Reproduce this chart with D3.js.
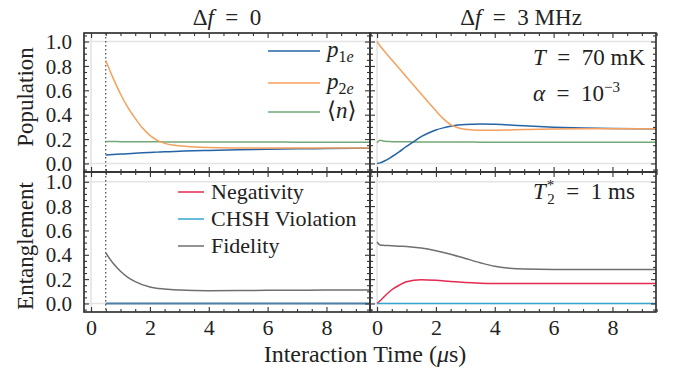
<!DOCTYPE html>
<html>
<head>
<meta charset="utf-8">
<script src="https://cdn.jsdelivr.net/npm/d3@7"></script>
<style>
  html, body { margin: 0; padding: 0; background: #fff; }
  svg { display: block; }
  svg text { font-family: 'Liberation Serif', 'DejaVu Serif', 'Liberation Sans', sans-serif; fill: #222; }
</style>
</head>
<body>
<svg id="chart" width="675" height="375"></svg>
<script>
// ---- data -------------------------------------------------------------
// Δf = 0, populations (start at t = 0.5 µs)
const tPopLeft  = [0.5, 0.75, 1, 1.25, 1.5, 1.75, 2, 2.25, 2.5, 3, 3.5, 4, 5, 6, 7, 8, 9, 9.5];
const p1eLeft   = [0.070, 0.073, 0.077, 0.080, 0.084, 0.087, 0.090, 0.093, 0.096, 0.100, 0.104, 0.107, 0.113, 0.117, 0.120, 0.122, 0.124, 0.125];
const p2eLeft   = [0.845, 0.700, 0.570, 0.460, 0.370, 0.290, 0.230, 0.190, 0.165, 0.145, 0.135, 0.130, 0.127, 0.126, 0.126, 0.126, 0.126, 0.126];
const nLeft     = [0.180, 0.180, 0.179, 0.179, 0.179, 0.178, 0.178, 0.178, 0.177, 0.177, 0.177, 0.176, 0.176, 0.176, 0.175, 0.175, 0.175, 0.175];

// Δf = 3 MHz, populations
const tPopRight = [0, 0.1, 0.25, 0.5, 0.75, 1, 1.25, 1.5, 1.75, 2, 2.25, 2.5, 2.75, 3, 3.5, 4, 4.5, 5, 6, 7, 8, 9, 9.5];
const p1eRight  = [0.000, 0.005, 0.020, 0.055, 0.095, 0.140, 0.180, 0.220, 0.250, 0.275, 0.292, 0.305, 0.315, 0.320, 0.323, 0.321, 0.316, 0.309, 0.298, 0.290, 0.286, 0.285, 0.285];
const p2eRight  = [1.000, 0.965, 0.920, 0.850, 0.780, 0.710, 0.640, 0.570, 0.500, 0.432, 0.368, 0.318, 0.293, 0.280, 0.272, 0.272, 0.275, 0.278, 0.283, 0.285, 0.285, 0.285, 0.285];
const nRight    = [0.170, 0.190, 0.182, 0.179, 0.178, 0.178, 0.177, 0.177, 0.177, 0.176, 0.176, 0.176, 0.176, 0.176, 0.175, 0.175, 0.175, 0.175, 0.175, 0.175, 0.175, 0.175, 0.175];

// Δf = 0, entanglement measures
const tEntLeft  = [0.5, 0.75, 1, 1.25, 1.5, 2, 2.5, 3, 3.5, 4, 5, 6, 7, 8, 9, 9.5];
const negLeft   = [0, 0, 0, 0, 0, 0, 0, 0, 0, 0, 0, 0, 0, 0, 0, 0];
const chshLeft  = [0, 0, 0, 0, 0, 0, 0, 0, 0, 0, 0, 0, 0, 0, 0, 0];
const fidLeft   = [0.415, 0.330, 0.265, 0.215, 0.180, 0.135, 0.118, 0.110, 0.106, 0.105, 0.106, 0.108, 0.109, 0.110, 0.110, 0.110];

// Δf = 3 MHz, entanglement measures
const tEntRight = [0, 0.1, 0.25, 0.5, 0.75, 1, 1.5, 2, 2.5, 3, 3.5, 4, 4.5, 5, 6, 7, 8, 9, 9.5];
const negRight  = [0.000, 0.022, 0.058, 0.113, 0.150, 0.178, 0.195, 0.190, 0.180, 0.172, 0.167, 0.165, 0.165, 0.165, 0.165, 0.165, 0.165, 0.165, 0.165];
const chshRight = [0, 0, 0, 0, 0, 0, 0, 0, 0, 0, 0, 0, 0, 0, 0, 0, 0, 0, 0];
const fidRight  = [0.505, 0.480, 0.477, 0.475, 0.471, 0.468, 0.455, 0.433, 0.405, 0.370, 0.335, 0.305, 0.290, 0.283, 0.280, 0.280, 0.280, 0.280, 0.280];

const xMajorTicks = [0, 2, 4, 6, 8];
const yMajorTicks = [0, 0.2, 0.4, 0.6, 0.8, 1.0];
const startMarker = 0.5;   // dotted line in the Δf = 0 panels

// ---- styles -----------------------------------------------------------
const C = {
  p1e: "#2563a6", p2e: "#f5a05c", n: "#72a877",
  neg: "#e6294f", chsh: "#35a6cf", chshDim: "#4a80a8", fid: "#6f6f6f",
  spine: "#333333", ref: "#e4e4e4"
};
const SP = "\u2002";  // wide space around "=" in the formulas

const svg = d3.select("#chart");

const colX = [[84, 370], [370, 656]];
const rowY = [[33, 172], [172, 312]];
const xDomain = [-0.24, 9.48];
const yDomains = [[-0.07, 1.07], [-0.07, 1.08]];

const line = (x, y) => d3.line().x(d => x(d[0])).y(d => y(d[1])).curve(d3.curveMonotoneX);
const zip = (t, v) => t.map((ti, i) => [ti, v[i]]);

const panels = [
  { row: 0, col: 0, series: [
      { t: tPopLeft, v: nLeft, c: C.n },
      { t: tPopLeft, v: p1eLeft, c: C.p1e },
      { t: tPopLeft, v: p2eLeft, c: C.p2e } ], marker: true },
  { row: 0, col: 1, series: [
      { t: tPopRight, v: nRight, c: C.n },
      { t: tPopRight, v: p1eRight, c: C.p1e },
      { t: tPopRight, v: p2eRight, c: C.p2e } ], marker: false },
  { row: 1, col: 0, series: [
      { t: tEntLeft, v: fidLeft, c: C.fid },
      { t: tEntLeft, v: negLeft, c: C.neg, w: 1 },
      { t: tEntLeft, v: chshLeft, c: C.chshDim, w: 2 } ], marker: true },
  { row: 1, col: 1, series: [
      { t: tEntRight, v: fidRight, c: C.fid },
      { t: tEntRight, v: negRight, c: C.neg },
      { t: tEntRight, v: chshRight, c: C.chsh } ], marker: false }
];

const xMinor = d3.range(0.5, 9.51, 0.5).filter(v => v % 2 !== 0);
const yMinor = d3.range(-0.05, 1.06, 0.05).map(v => +v.toFixed(2)).filter(v => Math.abs(v * 5 - Math.round(v * 5)) > 1e-6);

panels.forEach(p => {
  const x = d3.scaleLinear().domain(xDomain).range(colX[p.col]);
  const y = d3.scaleLinear().domain(yDomains[p.row]).range([rowY[p.row][1], rowY[p.row][0]]);
  const g = svg.append("g");
  const [x0, x1] = colX[p.col], [y0, y1] = rowY[p.row];

  const clipId = `clip-${p.row}-${p.col}`;
  svg.append("clipPath").attr("id", clipId).append("rect")
    .attr("x", x0).attr("y", y0).attr("width", x1 - x0).attr("height", y1 - y0);
  const plot = g.append("g").attr("clip-path", `url(#${clipId})`);

  // reference lines at 0 and 1, and at t = 0
  [0, 1].forEach(v => plot.append("line").attr("x1", x0).attr("x2", x1)
    .attr("y1", y(v)).attr("y2", y(v)).attr("stroke", C.ref).attr("stroke-width", 1.6));
  plot.append("line").attr("x1", x(0)).attr("x2", x(0)).attr("y1", y0).attr("y2", y1)
    .attr("stroke", C.ref).attr("stroke-width", 1.6);

  if (p.marker) {
    plot.append("line").attr("x1", x(startMarker)).attr("x2", x(startMarker))
      .attr("y1", y0).attr("y2", y1).attr("stroke", "#222").attr("stroke-width", 1)
      .attr("stroke-dasharray", "1.5,2.5");
  }

  p.series.forEach(s => {
    plot.append("path").datum(zip(s.t, s.v)).attr("d", line(x, y))
      .attr("fill", "none").attr("stroke", s.c).attr("stroke-width", s.w || 1.5);
  });

  // inward ticks on all four sides
  const addAxis = (axis, tx, ty) => {
    const a = g.append("g").attr("transform", `translate(${tx},${ty})`).call(axis);
    a.select(".domain").remove();
    a.attr("font-family", null);
    a.selectAll(".tick line").attr("stroke", C.spine).attr("stroke-width", 1.1);
    return a;
  };
  const showX = p.row === 1, showY = p.col === 0;
  const bx = addAxis(d3.axisBottom(x).tickValues(xMajorTicks).tickSize(-5).tickPadding(7)
    .tickFormat(showX ? d3.format("d") : ""), 0, y1);
  bx.selectAll("text").attr("font-size", 22).attr("fill", "#222");
  addAxis(d3.axisBottom(x).tickValues(xMinor).tickSize(-3).tickFormat(""), 0, y1);
  addAxis(d3.axisTop(x).tickValues(xMajorTicks).tickSize(-5).tickFormat(""), 0, y0);
  addAxis(d3.axisTop(x).tickValues(xMinor).tickSize(-3).tickFormat(""), 0, y0);
  const ly = addAxis(d3.axisLeft(y).tickValues(yMajorTicks).tickSize(-5).tickPadding(12)
    .tickFormat(showY ? d3.format(".1f") : ""), x0, 0);
  ly.selectAll("text").attr("font-size", 21).attr("fill", "#222").attr("dy", "0.34em");
  addAxis(d3.axisLeft(y).tickValues(yMinor).tickSize(-3).tickFormat(""), x0, 0);
  addAxis(d3.axisRight(y).tickValues(yMajorTicks).tickSize(-5).tickFormat(""), x1, 0);
  addAxis(d3.axisRight(y).tickValues(yMinor).tickSize(-3).tickFormat(""), x1, 0);

  g.append("rect").attr("x", x0).attr("y", y0).attr("width", x1 - x0).attr("height", y1 - y0)
    .attr("fill", "none").attr("stroke", C.spine).attr("stroke-width", 1.7);
});

// ---- text -------------------------------------------------------------
const T = (x, y, size, anchor) => svg.append("text").attr("x", x).attr("y", y)
  .attr("font-size", size).attr("text-anchor", anchor || "start");
const it = (sel, s) => sel.append("tspan").attr("font-style", "italic").text(s);
const rm = (sel, s) => sel.append("tspan").text(s);

// column titles
let t1 = T(227, 25, 23, "middle"); rm(t1, "Δ"); it(t1, "f"); rm(t1, `${SP}=${SP}0`);
let t2 = T(521, 25, 23, "middle"); rm(t2, "Δ"); it(t2, "f"); rm(t2, `${SP}=${SP}3 MHz`);

// axis titles
T(0, 0, 23, "middle").attr("transform", "translate(33,97) rotate(-90)").text("Population");
T(0, 0, 23, "middle").attr("transform", "translate(33,246) rotate(-90)").text("Entanglement");
let xl = T(365, 362, 24, "middle");
rm(xl, "Interaction Time ("); it(xl, "μ"); rm(xl, "s)");

// population legend
const popLegend = [
  { c: C.p1e, sub: ["1", "e"], y: 51 },
  { c: C.p2e, sub: ["2", "e"], y: 83 },
  { c: C.n, y: 112 }
];
popLegend.forEach(d => {
  svg.append("line").attr("x1", 268).attr("x2", 320).attr("y1", d.y).attr("y2", d.y)
    .attr("stroke", d.c).attr("stroke-width", 1.5);
  const tx = T(327, d.y + 6, 23);
  if (d.sub) {
    it(tx, "p");
    tx.append("tspan").attr("font-size", 16).attr("dy", 5).text(d.sub[0]);
    tx.append("tspan").attr("font-size", 16).attr("font-style", "italic").text(d.sub[1]);
  } else {
    rm(tx, "⟨"); it(tx, "n"); rm(tx, "⟩");
  }
});

// entanglement legend
const entLegend = [
  { c: C.neg, label: "Negativity", y: 192 },
  { c: C.chsh, label: "CHSH Violation", y: 219 },
  { c: C.fid, label: "Fidelity", y: 246 }
];
entLegend.forEach(d => {
  svg.append("line").attr("x1", 178).attr("x2", 204).attr("y1", d.y).attr("y2", d.y)
    .attr("stroke", d.c).attr("stroke-width", 1.5);
  T(211, d.y + 7, 22).text(d.label);
});

// parameter annotations
let a1 = T(533, 65, 23); it(a1, "T"); rm(a1, `${SP}=${SP}70 mK`);
let a2 = T(533, 101, 23); it(a2, "α"); rm(a2, `${SP}=${SP}10`);
a2.append("tspan").attr("font-size", 15).attr("dy", -9).text("−3");
let a3 = T(533, 199, 23); it(a3, "T");
a3.append("tspan").attr("font-size", 15).attr("dy", -9).attr("dx", 1).text("*");
a3.append("tspan").attr("font-size", 15).attr("dy", 14).attr("dx", -7).text("2");
a3.append("tspan").attr("dy", -5).text(`${SP}=${SP}1 ms`);
</script>
</body>
</html>
